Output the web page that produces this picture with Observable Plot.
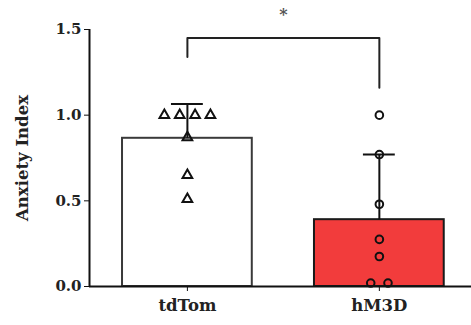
<!DOCTYPE html>
<html><head><meta charset="utf-8">
<script src="https://cdn.jsdelivr.net/npm/d3@7"></script>
<script src="https://cdn.jsdelivr.net/npm/@observablehq/plot@0.6"></script>
<style>body{margin:0;background:#fff}</style>
</head><body><div id="chart"></div>
<script>
const groups = ["tdTom", "hM3D"];
const means = [0.865, 0.39];
const sds = [0.20, 0.38];
const barFills = ["#ffffff", "#f23c3c"];
const barStrokes = ["#3a3a3a", "#1a1a1a"];
const tdTomValues = [1.0, 1.0, 1.0, 1.0, 0.87, 0.65, 0.51];
const tdTomJitter = [-0.12, -0.04, 0.04, 0.12, 0, 0, 0];
const hM3DValues = [1.0, 0.77, 0.48, 0.275, 0.175, 0.02, 0.02];
const hM3DJitter = [0, 0, 0, 0, 0, -0.045, 0.045];
const yTicks = [0, 0.5, 1.0, 1.5];
const bracketY = [1.34, 1.45, 1.45, 1.16];
const bracketGroup = [1, 1, 2, 2];
const sigLabel = "*";
const yLabel = "Anxiety Index";

const halfBar = 0.338, halfCap = 0.083;
const bars = groups.map((g, i) => ({g, pos: i + 1, mean: means[i], sd: sds[i], fill: barFills[i], stroke: barStrokes[i]}));
const tdPts = tdTomValues.map((v, i) => ({x: 1 + tdTomJitter[i], y: v}));
const hmPts = hM3DValues.map((v, i) => ({x: 2 + hM3DJitter[i], y: v}));
const bracket = bracketY.map((y, i) => ({x: bracketGroup[i], y}));

const font = "'DejaVu Serif', 'Liberation Serif', serif";
const chart = Plot.plot({
  width: 471, height: 325,
  marginLeft: 89, marginRight: 0, marginTop: 29, marginBottom: 39,
  style: {fontFamily: font, fontWeight: "bold", background: "#fff"},
  x: {domain: [0.49, 2.48], axis: null},
  y: {domain: [0, 1.5], axis: null},
  marks: [
    Plot.rectY(bars, {x1: d => d.pos - halfBar, x2: d => d.pos + halfBar, y1: 0, y2: "mean", fill: "fill", stroke: "stroke", strokeWidth: 2}),
    Plot.ruleX(bars, {x: "pos", y1: "mean", y2: d => d.mean + d.sd, stroke: "#111", strokeWidth: 2}),
    Plot.ruleY(bars, {y: d => d.mean + d.sd, x1: d => d.pos - halfCap, x2: d => d.pos + halfCap, stroke: "#111", strokeWidth: 2}),
    Plot.dot(tdPts, {x: "x", y: "y", symbol: "triangle", r: 3.6, stroke: "#111", strokeWidth: 2, fill: "none"}),
    Plot.dot(hmPts, {x: "x", y: "y", symbol: "circle", r: 3.8, stroke: "#111", strokeWidth: 2, fill: "none"}),
    Plot.ruleY([0], {stroke: "#111", strokeWidth: 2}),
    Plot.ruleX([0.49], {y1: 0, y2: 1.5, stroke: "#111", strokeWidth: 2}),
    Plot.axisY({ticks: yTicks, tickFormat: d3.format(".1f"), tickSize: 5, tickPadding: 3, tickWidth: 2, fontSize: 15, label: null, stroke: "#111", fill: "#222"}),
    Plot.axisX({ticks: [1, 2], tickFormat: i => groups[i - 1], tickSize: 5, tickPadding: 8, fontSize: 16.5, label: null, stroke: "#111", fill: "#222"}),
    Plot.line(bracket, {x: "x", y: "y", stroke: "#222", strokeWidth: 2}),
    Plot.text([sigLabel], {x: 1.5, y: 1.585, fontSize: 16, fill: "#555"}),
    Plot.text([yLabel], {frameAnchor: "left", textAnchor: "middle", rotate: -90, dx: -67, fontSize: 16.5, fill: "#222"})
  ]
});
document.getElementById("chart").append(chart);
</script></body></html>
